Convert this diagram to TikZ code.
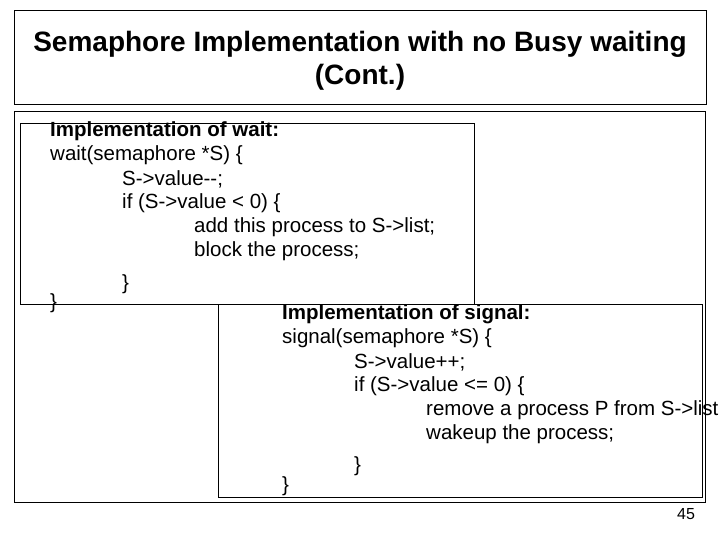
\documentclass[tikz,border=0pt]{standalone}
\usepackage{fontspec}
\setmainfont{Liberation Sans}
\tikzstyle{frame}=[draw=black, thick]
\tikzstyle{codeline}=[anchor=west, inner sep=0pt, font=\fontsize{20.5}{22}\selectfont]
\tikzstyle{headline}=[codeline, font=\fontsize{20.5}{22}\selectfont\bfseries]

\begin{document}
\begin{tikzpicture}[x=1pt,y=-1pt]
  \useasboundingbox (0,0) rectangle (720,540);
  % title and frames
  \draw[frame] (14,10) rectangle (706,104);
  \node (title) [font=\fontsize{28}{33}\selectfont\bfseries, align=center] at (360,61)
    {Semaphore Implementation with no Busy waiting\\(Cont.)};
  \draw[frame] (14,111) rectangle (705,502);
  \draw[frame] (20,123) rectangle (474,304);
  \draw[frame, fill=white] (218,304) rectangle (702,497);

  % wait
  \node (w1) [headline] at (50,131) {Implementation of wait:};
  \node (w2) [codeline] at (50,155) {wait(semaphore *S) \{};
  \node (w3) [codeline] at (122,179) {S->value{-}{-};};
  \node (w4) [codeline] at (122,203) {if (S->value < 0) \{};
  \node (w5) [codeline] at (194,227) {add this process to S->list;};
  \node (w6) [codeline] at (194,251) {block the process;};
  \node (w7) [codeline] at (122,284) {\}};
  \node (w8) [codeline] at (50,303) {\}};

  % signal
  \node (s1) [headline] at (282,314) {Implementation of signal:};
  \node (s2) [codeline] at (282,338) {signal(semaphore *S) \{};
  \node (s3) [codeline] at (354,362) {S->value++;};
  \node (s4) [codeline] at (354,386) {if (S->value <= 0) \{};
  \node (s5) [codeline] at (426,410) {remove a process P from S->list;};
  \node (s6) [codeline] at (426,434) {wakeup the process;};
  \node (s7) [codeline] at (354,466) {\}};
  \node (s8) [codeline] at (282,486) {\}};

  \node (page) [font=\fontsize{16}{18}\selectfont] at (686,514) {45};
\end{tikzpicture}
\end{document}
